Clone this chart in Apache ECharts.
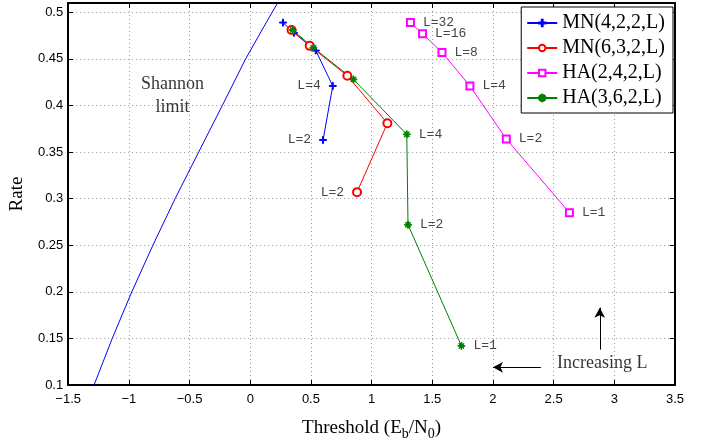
<!DOCTYPE html>
<html>
<head>
<meta charset="utf-8">
<script src="https://cdn.jsdelivr.net/npm/echarts@6/dist/echarts.min.js"></script>
<style>
  html, body { margin: 0; padding: 0; background: #fff; }
  #chart { width: 713px; height: 446px; }
</style>
</head>
<body>
<div id="chart"></div>
<script>
// Thresholds (Eb/N0, dB) and rates for each code family, indexed by L
const mn422L = [32, 16, 8, 4, 2];
const mn422X = [0.27, 0.36, 0.54, 0.68, 0.60];
const mn422Y = [0.489, 0.478, 0.459, 0.421, 0.363];
const mn422Tagged = [4, 2];

const mn632L = [32, 16, 8, 4, 2];
const mn632X = [0.34, 0.49, 0.80, 1.13, 0.88];
const mn632Y = [0.481, 0.464, 0.432, 0.381, 0.307];
const mn632Tagged = [2];

const ha242L = [32, 16, 8, 4, 2, 1];
const ha242X = [1.32, 1.42, 1.58, 1.81, 2.11, 2.63];
const ha242Y = [0.489, 0.477, 0.457, 0.421, 0.364, 0.285];
const ha242Tagged = [32, 16, 8, 4, 2, 1];

const ha362L = [32, 16, 8, 4, 2, 1];
const ha362X = [0.35, 0.52, 0.85, 1.29, 1.30, 1.74];
const ha362Y = [0.481, 0.462, 0.428, 0.369, 0.272, 0.142];
const ha362Tagged = [4, 2, 1];

// Capacity limit curve
const shannonY = [0.10, 0.15, 0.20, 0.25, 0.30, 0.35, 0.40, 0.45, 0.50, 0.51];
const shannonX = [-1.287, -1.137, -0.976, -0.802, -0.619, -0.425, -0.23, -0.038, 0.18, 0.226];

// Annotation anchors in data units
const shannonNote = [-0.64, 0.41];
const increasingNote = [2.90, 0.1237];
const arrowLeft = [[2.395, 0.119], [2.0, 0.119]];
const arrowUp = [[2.88, 0.138], [2.88, 0.183]];

const seriesNames = ['MN(4,2,2,L)', 'MN(6,3,2,L)', 'HA(2,4,2,L)', 'HA(3,6,2,L)'];

const PLUS = 'path://M4.3,0h1.4v4.3h4.3v1.4h-4.3v4.3h-1.4v-4.3h-4.3v-1.4h4.3z';
const STAR = 'path://M4.4,0h1.2v10h-1.2z M0,4.4h10v1.2h-10z M1.2,2.0L2.0,1.2L8.8,8.0L8.0,8.8z M8.0,1.2L8.8,2.0L2.0,8.8L1.2,8.0z';

function tagLabel(side) {
  return {
    position: side,
    distance: 8,
    fontFamily: '"Liberation Mono", monospace',
    fontSize: 13,
    color: '#444'
  };
}

function points(xs, ys, ls, tagged, side) {
  return xs.map((x, i) => ({
    value: [x, ys[i]],
    label: Object.assign(tagLabel(side), {
      show: tagged.includes(ls[i]),
      formatter: 'L=' + ls[i]
    })
  }));
}

function codeSeries(name, color, symbol, size, data, side) {
  return {
    name: name,
    type: 'line',
    data: data,
    symbol: symbol,
    symbolSize: size,
    showAllSymbol: true,
    lineStyle: { color: color, width: 1 },
    itemStyle: { color: color, borderColor: color, borderWidth: 1 },
    label: tagLabel(side),
    emphasis: { disabled: true },
    z: 3
  };
}

const axisFont = { fontFamily: 'Liberation Sans', fontSize: 13, color: '#000' };
const nameFont = { fontFamily: 'Liberation Serif', fontSize: 19, color: '#000' };
const gridLine = { show: true, lineStyle: { color: '#9a9a9a', width: 1, type: [1, 3] } };
const frameLine = { show: true, onZero: false, lineStyle: { color: '#000', width: 2 } };
const innerTick = { show: true, inside: true, length: 5, lineStyle: { color: '#000', width: 1 } };
const minus = v => String(v).replace('-', '\u2212');

const chart = echarts.init(document.getElementById('chart'), null, { renderer: 'canvas' });

chart.setOption({
  animation: false,
  backgroundColor: '#fff',
  grid: { left: 64, right: 38, top: 3, bottom: 52, containLabel: false },
  legend: {
    data: seriesNames,
    orient: 'vertical',
    right: 40,
    top: 7,
    padding: [6, 8, 5, 5],
    itemWidth: 30,
    itemHeight: 8,
    itemGap: 5,
    backgroundColor: '#fff',
    borderColor: '#000',
    borderWidth: 1,
    borderRadius: 0,
    textStyle: { fontFamily: 'Liberation Serif', fontSize: 20, lineHeight: 20, color: '#000' },
    selectedMode: false
  },
  xAxis: [
    {
      type: 'value', min: -1.5, max: 3.5, interval: 0.5,
      position: 'bottom',
      name: '{t|Threshold (E}{s|b}{t|/N}{s|0}{t|)}',
      nameLocation: 'middle', nameGap: 30,
      nameTextStyle: {
        rich: {
          t: nameFont,
          s: { fontFamily: 'Liberation Serif', fontSize: 14, color: '#000', padding: [12, 0, 0, 0] }
        }
      },
      axisLine: frameLine,
      axisTick: innerTick,
      axisLabel: Object.assign({ margin: 8, formatter: minus }, axisFont),
      splitLine: gridLine
    },
    {
      type: 'value', min: -1.5, max: 3.5, interval: 0.5,
      position: 'top',
      axisLine: frameLine,
      axisTick: innerTick,
      axisLabel: { show: false },
      splitLine: { show: false }
    }
  ],
  yAxis: [
    {
      type: 'value', min: 0.1, max: 0.51, interval: 0.05,
      position: 'left',
      name: 'Rate',
      nameLocation: 'middle', nameGap: 34,
      nameTextStyle: nameFont,
      axisLine: frameLine,
      axisTick: innerTick,
      axisLabel: Object.assign({ margin: 5, showMaxLabel: false, formatter: v => String(+v.toFixed(2)) }, axisFont),
      splitLine: gridLine
    },
    {
      type: 'value', min: 0.1, max: 0.51, interval: 0.05,
      position: 'right',
      axisLine: frameLine,
      axisTick: innerTick,
      axisLabel: { show: false },
      splitLine: { show: false }
    }
  ],
  series: [
    {
      name: 'Shannon limit',
      type: 'line',
      data: shannonX.map((x, i) => [x, shannonY[i]]),
      showSymbol: false,
      symbol: 'none',
      lineStyle: { color: '#0000ff', width: 1 },
      itemStyle: { color: '#0000ff' },
      emphasis: { disabled: true },
      silent: true,
      z: 2
    },
    codeSeries(seriesNames[0], '#0000ff', PLUS, 7,
      points(mn422X, mn422Y, mn422L, mn422Tagged, 'left'), 'left'),
    codeSeries(seriesNames[1], '#ff0000', 'emptyCircle', 8,
      points(mn632X, mn632Y, mn632L, mn632Tagged, 'left'), 'left'),
    codeSeries(seriesNames[2], '#ff00ff', 'emptyRect', 7,
      points(ha242X, ha242Y, ha242L, ha242Tagged, 'right'), 'right'),
    codeSeries(seriesNames[3], '#008000', STAR, 7,
      points(ha362X, ha362Y, ha362L, ha362Tagged, 'right'), 'right'),
    {
      name: 'notes',
      type: 'scatter',
      symbolSize: 0,
      silent: true,
      z: 5,
      data: [
        {
          value: shannonNote,
          label: {
            show: true, position: 'inside', formatter: 'Shannon\nlimit',
            fontFamily: 'Liberation Serif', fontSize: 18, lineHeight: 23, color: '#000', align: 'center'
          }
        },
        {
          value: increasingNote,
          label: {
            show: true, position: 'inside', formatter: 'Increasing L',
            fontFamily: 'Liberation Serif', fontSize: 18, color: '#000', align: 'center'
          }
        }
      ],
      markLine: {
        silent: true,
        symbol: ['none', 'arrow'],
        symbolSize: [8, 10],
        lineStyle: { color: '#000', width: 1, type: 'solid' },
        label: { show: false },
        emphasis: { disabled: true },
        data: [
          [{ coord: arrowLeft[0] }, { coord: arrowLeft[1] }],
          [{ coord: arrowUp[0] }, { coord: arrowUp[1] }]
        ]
      }
    }
  ]
});
</script>
</body>
</html>
